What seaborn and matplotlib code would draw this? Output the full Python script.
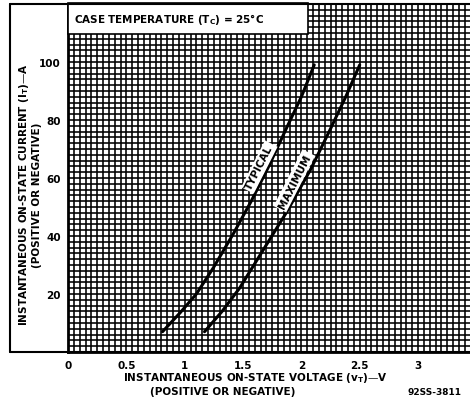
import numpy as np
import pandas as pd
import matplotlib
matplotlib.use("Agg")
import matplotlib.pyplot as plt
from matplotlib.patches import Rectangle
from matplotlib.lines import Line2D
import seaborn as sns

# on-state current (A) vs voltage (V)
v_typical = [0.81, 0.96, 1.10, 1.245, 1.42, 1.57, 1.72, 1.87, 2.00, 2.11]
i_typical = [7, 13.5, 20, 29, 41, 52, 64, 77, 88, 99]
v_maximum = [1.17, 1.32, 1.47, 1.67, 1.87, 2.08, 2.25, 2.38, 2.50]
i_maximum = [7, 14, 22, 35, 48, 63, 77, 88, 99]

x_ticks = [0, 0.5, 1, 1.5, 2, 2.5, 3]
x_labels = ["0", "0.5", "1", "1.5", "2", "2.5", "3"]
y_ticks = [20, 40, 60, 80, 100]
y_labels = ["20", "40", "60", "80", "100"]

df = pd.DataFrame({
    "I": i_typical + i_maximum,
    "V": v_typical + v_maximum,
    "curve": ["TYPICAL"] * len(i_typical) + ["MAXIMUM"] * len(i_maximum),
})

sns.set_style("white")
plt.rcParams["font.family"] = ["DejaVu Sans"]
plt.rcParams["font.weight"] = "bold"
plt.rcParams["text.color"] = "black"
plt.rcParams["xtick.color"] = "black"
plt.rcParams["ytick.color"] = "black"

fig = plt.figure(figsize=(4.7, 4.02), dpi=100)
ax = fig.add_axes([68 / 470, 1 - 353 / 402, 1 - 68 / 470, 348 / 402])

ax.set_xlim(0, 3.445)
ax.set_ylim(0, 120)

# fine graph-paper grid
ax.set_xticks(np.arange(0, 3.45, 0.05), minor=True)
ax.set_yticks(np.arange(0, 121, 2), minor=True)
ax.set_xticks(x_ticks)
ax.set_xticklabels(x_labels, fontsize=7.5, fontweight="bold")
ax.set_yticks(y_ticks)
ax.set_yticklabels(y_labels, fontsize=7.5, fontweight="bold")
ax.tick_params(which="both", length=0)
ax.tick_params(axis="x", pad=6)
ax.tick_params(axis="y", pad=5)
ax.grid(which="both", color="black", linewidth=1.15)
ax.set_axisbelow(True)
for s in ["top", "right"]:
    ax.spines[s].set_visible(False)
for s in ["left", "bottom"]:
    ax.spines[s].set_color("black")
    ax.spines[s].set_linewidth(2)

sns.lineplot(data=df, x="V", y="I", hue="curve", palette=["black", "black"],
             linewidth=2.2, legend=False, ax=ax, sort=False, estimator=None, zorder=3)
ax.set_xlabel("")
ax.set_ylabel("")

ax.text(1.64, 63.8, "TYPICAL", rotation=63, ha="center", va="center",
        fontsize=7.5, fontweight="bold", zorder=4,
        bbox=dict(facecolor="white", edgecolor="none", pad=1.5))
ax.text(1.94, 59, "MAXIMUM", rotation=63, ha="center", va="center",
        fontsize=7.5, fontweight="bold", zorder=4,
        bbox=dict(facecolor="white", edgecolor="none", pad=1.5))

# condition box
ax.add_patch(Rectangle((0, 0.914), 0.597, 0.09, transform=ax.transAxes,
                       facecolor="white", edgecolor="black", linewidth=1.2,
                       zorder=5, clip_on=False))
ax.text(0.015, 0.957, "CASE TEMPERATURE (T$_\\mathbf{C}$) = 25°C", transform=ax.transAxes,
        ha="left", va="center", fontsize=7.5, fontweight="bold", zorder=6)

# outer frame
fx0 = 10 / 470
fy0 = 1 - 353 / 402
fy1 = 1 - 5 / 402
for xs, ys in [([fx0, fx0], [fy0, fy1]), ([fx0, 1], [fy1, fy1]), ([fx0, 1], [fy0, fy0])]:
    fig.add_artist(Line2D(xs, ys, color="black", linewidth=1.5, transform=fig.transFigure))

fig.text(24 / 470, 1 - 195 / 402, "INSTANTANEOUS ON-STATE CURRENT (I$_\\mathbf{T}$)—A",
         rotation=90, ha="center", va="center", fontsize=7.5, fontweight="bold")
fig.text(37 / 470, 1 - 195 / 402, "(POSITIVE OR NEGATIVE)",
         rotation=90, ha="center", va="center", fontsize=7.5, fontweight="bold")
fig.text(255 / 470, 1 - 378 / 402, "INSTANTANEOUS ON-STATE VOLTAGE (v$_\\mathbf{T}$)—V",
         ha="center", va="center", fontsize=7.5, fontweight="bold")
fig.text(223 / 470, 1 - 392 / 402, "(POSITIVE OR NEGATIVE)",
         ha="center", va="center", fontsize=7.5, fontweight="bold")
fig.text(434 / 470, 1 - 393 / 402, "92SS-3811",
         ha="center", va="center", fontsize=6.5, fontweight="bold")

fig.savefig("out.png", dpi=100)
